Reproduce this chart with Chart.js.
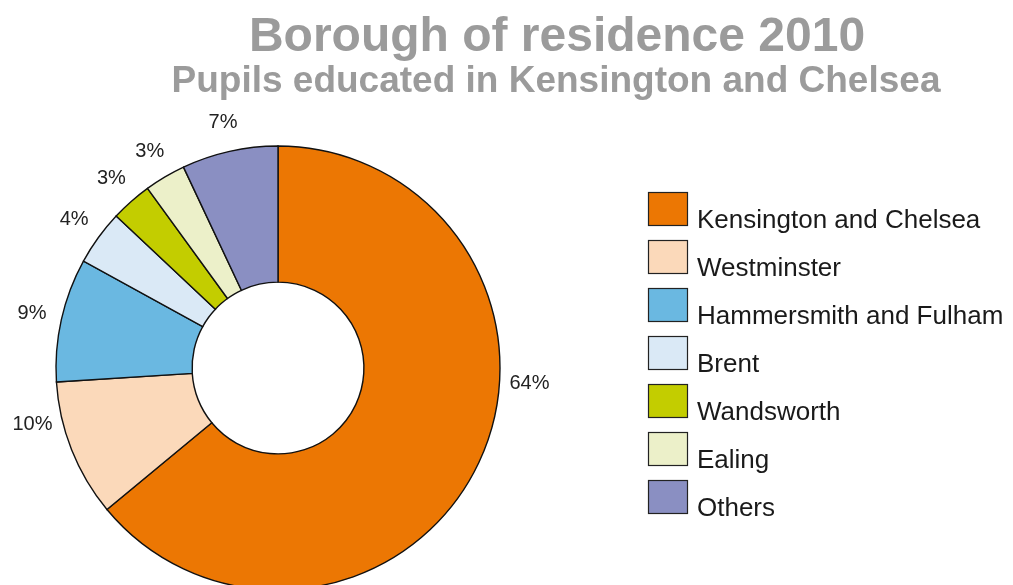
<!DOCTYPE html>
<html>
<head>
<meta charset="utf-8">
<title>Borough of residence 2010</title>
<script src="https://cdn.jsdelivr.net/npm/chart.js@4/dist/chart.umd.min.js"></script>
<style>
  html, body { margin: 0; padding: 0; background: #fff; overflow: hidden; }
  #wrap { width: 1013px; height: 585px; overflow: hidden; position: relative; }
  canvas { display: block; }
</style>
</head>
<body>
<div id="wrap"><canvas id="chart" width="1013" height="620"></canvas></div>
<script>
// Boroughs of residence of pupils educated in Kensington and Chelsea (2010)
const boroughs = [
  'Kensington and Chelsea',
  'Westminster',
  'Hammersmith and Fulham',
  'Brent',
  'Wandsworth',
  'Ealing',
  'Others'
];
const sharePercent = [64, 10, 9, 4, 3, 3, 7];
const sliceColours = ['#EC7703', '#FBD9BA', '#6AB8E1', '#DAE9F6', '#C3CD00', '#ECF0C9', '#8A8FC2'];

const titleText = 'Borough of residence 2010';
const subtitleText = 'Pupils educated in Kensington and Chelsea';

const FONT = '"Liberation Sans", Arial, Helvetica, sans-serif';

// Headline text above the ring
const headingPlugin = {
  id: 'heading',
  afterDraw(chart) {
    const ctx = chart.ctx;
    ctx.save();
    ctx.fillStyle = '#9B9B9B';
    ctx.textAlign = 'center';
    ctx.textBaseline = 'alphabetic';
    ctx.font = 'bold 48px ' + FONT;
    ctx.fillText(titleText, 557, 51);
    ctx.font = 'bold 37px ' + FONT;
    ctx.fillText(subtitleText, 556, 92);
    ctx.restore();
  }
};

// Percentage labels placed outside each slice
const outsideLabelsPlugin = {
  id: 'outsideLabels',
  afterDatasetsDraw(chart, args, opts) {
    const ctx = chart.ctx;
    const meta = chart.getDatasetMeta(0);
    const values = chart.data.datasets[0].data;
    const anchors = opts.anchorAngles || {};
    ctx.save();
    ctx.fillStyle = '#222';
    ctx.font = '20px ' + FONT;
    ctx.textAlign = 'center';
    ctx.textBaseline = 'middle';
    meta.data.forEach((arc, i) => {
      let a = (arc.startAngle + arc.endAngle) / 2;
      if (anchors[i] !== undefined) a = (anchors[i] - 90) * Math.PI / 180;
      const r = arc.outerRadius + opts.gap;
      const x = arc.x + Math.cos(a) * r;
      const y = arc.y + Math.sin(a) * r;
      ctx.fillText(values[i] + '%', x, y);
    });
    ctx.restore();
  }
};

// Legend column on the right, built from the chart's own labels and colours
const sideLegendPlugin = {
  id: 'sideLegend',
  afterDraw(chart, args, opts) {
    const ctx = chart.ctx;
    const ds = chart.data.datasets[0];
    ctx.save();
    ctx.font = '26px ' + FONT;
    ctx.textAlign = 'left';
    ctx.textBaseline = 'alphabetic';
    chart.data.labels.forEach((label, i) => {
      const top = opts.top + i * opts.step;
      ctx.fillStyle = ds.backgroundColor[i];
      ctx.fillRect(opts.left, top, opts.boxW, opts.boxH);
      ctx.strokeStyle = '#222';
      ctx.lineWidth = 1.2;
      ctx.strokeRect(opts.left + 0.5, top + 0.5, opts.boxW - 1, opts.boxH - 1);
      ctx.fillStyle = '#1A1A1A';
      ctx.fillText(label, opts.left + opts.boxW + 9, top + 36);
    });
    ctx.restore();
  }
};

new Chart(document.getElementById('chart'), {
  type: 'doughnut',
  data: {
    labels: boroughs,
    datasets: [{
      data: sharePercent,
      backgroundColor: sliceColours,
      borderColor: '#111',
      borderWidth: 1.4,
      borderJoinStyle: 'miter'
    }]
  },
  options: {
    responsive: false,
    animation: false,
    cutout: '38.7%',
    radius: 222,
    layout: { padding: { left: 56, top: 146, right: 513, bottom: 30 } },
    plugins: {
      legend: { display: false },
      tooltip: { enabled: false },
      title: { display: false },
      outsideLabels: { gap: 30, anchorAngles: { 0: 93.6, 1: 257 } },
      sideLegend: { left: 648, top: 192, step: 48, boxW: 40, boxH: 34 }
    }
  },
  plugins: [headingPlugin, outsideLabelsPlugin, sideLegendPlugin]
});
</script>
</body>
</html>
